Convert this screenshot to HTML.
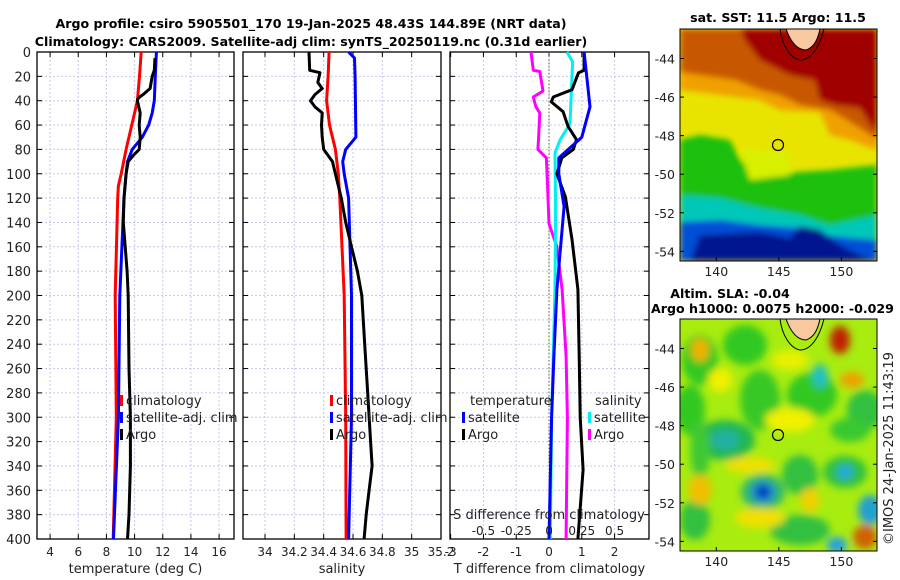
<!DOCTYPE html>
<html><head><meta charset="utf-8">
<style>
html,body{margin:0;padding:0;background:#fff;}
svg{display:block;font-family:"DejaVu Sans","Liberation Sans",sans-serif;}
</style></head>
<body>
<svg id="fig" width="900" height="580" viewBox="0 0 900 580">
<defs>
<filter id="blur3" x="-20%" y="-20%" width="140%" height="140%"><feGaussianBlur stdDeviation="3"/></filter>
<filter id="blur5" x="-30%" y="-30%" width="160%" height="160%"><feGaussianBlur stdDeviation="4"/></filter>
<clipPath id="clipTop"><rect x="680" y="29" width="197" height="232"/></clipPath>
<clipPath id="clipBot"><rect x="680" y="319" width="197" height="232"/></clipPath>
</defs>
<text x="311" y="28" text-anchor="middle" font-size="12.6" font-weight="bold">Argo profile: csiro 5905501_170 19-Jan-2025 48.43S 144.89E (NRT data)</text>
<text x="311" y="46" text-anchor="middle" font-size="12.6" font-weight="bold">Climatology: CARS2009. Satellite-adj clim: synTS_20250119.nc (0.31d earlier)</text>

<!-- Top SST map -->
<g>
<g clip-path="url(#clipTop)">
<rect x="680" y="29" width="197" height="232" fill="#e8e400"/>
<g filter="url(#blur3)">
<polygon points="680,29 877,29 877,150 850,140 830,135 820,112 780,110 760,100 720,95 680,90" fill="#f0a000"/>
<polygon points="680,29 877,29 877,140 860,128 830,110 800,105 780,95 760,90 735,80 700,75 680,72" fill="#c85800"/>
<polygon points="740,29 877,29 877,135 860,108 835,105 820,100 815,80 790,75 760,60 745,40" fill="#a00000"/>
<polygon points="680,140 700,135 730,140 740,160 760,175 800,172 830,170 877,165 877,225 840,235 800,215 760,210 720,200 680,200" fill="#1ec010"/>
<polygon points="740,150 790,152 790,175 750,180" fill="#d8f000"/>
<polygon points="680,195 720,198 760,208 800,215 830,225 877,215 877,240 840,245 800,232 760,230 720,230 680,235" fill="#00c8b8"/>
<polygon points="680,222 720,220 760,225 800,228 830,236 877,240 877,261 680,261" fill="#0050d8"/>
<polygon points="700,235 760,232 790,238 800,226 820,230 840,245 860,255 877,261 690,261" fill="#001890"/>
</g>
<path d="M786,29 C790,40 796,50 806,50 C815,47 818,38 820,29 Z" fill="#f8c8a0" stroke="#000" stroke-width="1"/>
<path d="M780,29 C782,45 790,58 800,60 C812,60 820,45 824,29" fill="none" stroke="#000" stroke-width="1"/>
<circle cx="778" cy="145" r="5.5" fill="none" stroke="#000" stroke-width="1.2"/>
</g>
<rect x="680" y="29" width="197" height="232" fill="none" stroke="#000" stroke-width="1"/>
<text x="778" y="22" text-anchor="middle" font-size="12.6" font-weight="bold">sat. SST: 11.5 Argo: 11.5</text>
</g>

<!-- Bottom SLA map -->
<g>
<g clip-path="url(#clipBot)">
<rect x="680" y="319" width="197" height="232" fill="#a8ec10"/>
<g filter="url(#blur5)">
<ellipse cx="700" cy="360" rx="18" ry="25" fill="#30c820"/>
<ellipse cx="745" cy="345" rx="22" ry="20" fill="#30c820"/>
<ellipse cx="690" cy="410" rx="15" ry="25" fill="#30c820"/>
<ellipse cx="760" cy="400" rx="20" ry="30" fill="#38c828"/>
<ellipse cx="812" cy="395" rx="25" ry="22" fill="#30c820"/>
<ellipse cx="725" cy="440" rx="30" ry="20" fill="#20b850"/>
<ellipse cx="725" cy="440" rx="15" ry="10" fill="#20b0a0"/>
<ellipse cx="820" cy="376" rx="8" ry="12" fill="#20c0c0"/>
<ellipse cx="865" cy="410" rx="18" ry="20" fill="#30c040"/>
<ellipse cx="800" cy="475" rx="18" ry="20" fill="#30c040"/>
<ellipse cx="845" cy="472" rx="22" ry="16" fill="#30c040"/>
<ellipse cx="845" cy="472" rx="8" ry="7" fill="#20a8e0"/>
<ellipse cx="763" cy="492" rx="22" ry="18" fill="#30b870"/>
<ellipse cx="763" cy="492" rx="11" ry="10" fill="#1070e0"/>
<ellipse cx="763" cy="492" rx="5" ry="5" fill="#0020a0"/>
<ellipse cx="695" cy="520" rx="15" ry="20" fill="#30c040"/>
<ellipse cx="800" cy="530" rx="30" ry="15" fill="#30c040"/>
<ellipse cx="837" cy="545" rx="10" ry="8" fill="#20a0e0"/>
<ellipse cx="870" cy="510" rx="12" ry="15" fill="#20a0d0"/>
<ellipse cx="700" cy="450" rx="10" ry="30" fill="#40c830"/>
<ellipse cx="850" cy="430" rx="20" ry="12" fill="#38c830"/>
<ellipse cx="720" cy="380" rx="12" ry="12" fill="#f0f000"/>
<ellipse cx="790" cy="360" rx="18" ry="10" fill="#e8f000"/>
<ellipse cx="790" cy="420" rx="25" ry="12" fill="#f0f000"/>
<ellipse cx="700" cy="350" rx="9" ry="12" fill="#f0b000"/>
<ellipse cx="840" cy="340" rx="10" ry="14" fill="#c02000"/>
<ellipse cx="852" cy="380" rx="12" ry="8" fill="#f0a000"/>
<ellipse cx="700" cy="490" rx="12" ry="15" fill="#f0c000"/>
<ellipse cx="750" cy="465" rx="25" ry="8" fill="#f0e000"/>
<ellipse cx="760" cy="518" rx="25" ry="10" fill="#f0e000"/>
<ellipse cx="865" cy="537" rx="12" ry="12" fill="#d06000"/>
<ellipse cx="810" cy="500" rx="10" ry="12" fill="#f0d000"/>
</g>
<path d="M786,319 C790,330 796,340 806,340 C815,337 818,328 820,319 Z" fill="#f8c8a0" stroke="#000" stroke-width="1"/>
<path d="M780,319 C782,335 790,348 800,350 C812,350 820,335 824,319" fill="none" stroke="#000" stroke-width="1"/>
<circle cx="778" cy="435" r="5.5" fill="none" stroke="#000" stroke-width="1.2"/>
</g>
<rect x="680" y="319" width="197" height="232" fill="none" stroke="#000" stroke-width="1"/>
<text x="730" y="298" text-anchor="middle" font-size="12.6" font-weight="bold">Altim. SLA: -0.04</text>
<text x="651" y="313" font-size="12.6" font-weight="bold">Argo h1000: 0.0075 h2000: -0.029</text>
</g>
<text transform="translate(893,545) rotate(-90)" font-size="13" fill="#222">©IMOS 24-Jan-2025 11:43:19</text>

<g id="plots"></g>
</svg>
<script>
// ---- data ----
const tempClimDepth = [0,20,40,60,80,100,110,120,200,300,400];
const tempClim      = [10.47,10.35,10.2,9.8,9.4,9.05,8.85,8.8,8.62,8.7,8.48];
const tempSatDepth  = [0,20,40,50,60,70,80,90,100,120,200,300,400];
const tempSat       = [11.55,11.47,11.4,11.25,11.0,10.55,9.83,9.5,9.4,9.25,8.95,8.85,8.5];
const argoDepth     = [5,15,20,30,35,38,40,50,60,70,80,85,90,100,120,140,160,180,200,260,300,340,380,400];
const argoTemp      = [11.45,11.4,11.25,11.1,10.6,10.25,10.2,10.4,10.33,10.4,10.33,9.9,9.55,9.4,9.25,9.2,9.33,9.47,9.55,9.6,9.7,9.7,9.6,9.5];

const salClimDepth = [0,20,40,60,80,100,120,200,300,400];
const salClim      = [34.437,34.43,34.42,34.44,34.48,34.5,34.51,34.54,34.55,34.553];
const salSatDepth  = [0,5,20,70,80,90,100,120,200,300,400];
const salSat       = [34.57,34.61,34.614,34.62,34.55,34.53,34.54,34.57,34.59,34.59,34.57];
const argoSalDepth = [0,15,17,25,30,35,40,45,50,60,70,80,85,90,100,120,140,160,180,200,240,280,320,340,360,380,400];
const argoSal      = [34.30,34.305,34.375,34.36,34.39,34.34,34.31,34.34,34.39,34.385,34.39,34.40,34.43,34.46,34.48,34.52,34.55,34.59,34.63,34.66,34.68,34.70,34.72,34.73,34.71,34.69,34.676];

const dTSatDepth  = [0,45,70,87,100,127,195,250,300,400];
const dTSat       = [1.07,1.25,1.0,0.3,0.3,0.46,0.24,0.15,0.08,0.0];
const dTArgoDepth = [0,15,17,31,37,41,49,61,72,80,87,100,119,154,195,250,300,343,400];
const dTArgo      = [1.07,1.07,0.9,0.7,0.13,0.07,0.43,0.58,0.84,0.74,0.39,0.24,0.5,0.7,0.88,0.92,0.95,1.04,0.88];
const dSSatDepth  = [0,8,59,72,83,127,195,300,400];
const dSSat       = [0.137,0.18,0.16,0.085,0.046,0.05,0.046,0.02,0.01];
const dSArgoDepth = [0,15,16,32,37,45,50,72,80,87,113,141,160,195,250,300,400];
const dSArgo      = [-0.137,-0.12,-0.07,-0.046,-0.12,-0.10,-0.07,-0.08,-0.085,-0.02,-0.01,0.0,0.06,0.1,0.13,0.14,0.13];

const depthTicks = [0,20,40,60,80,100,120,140,160,180,200,220,240,260,280,300,320,340,360,380,400];
const tempTicks = [4,6,8,10,12,14,16];
const salTicks = [34,34.2,34.4,34.6,34.8,35,35.2];
const salTickLabels = ["34","34.2","34.4","34.6","34.8","35","35.2"];
const dTTicks = [-3,-2,-1,0,1,2];
const dTTickLabels = ["-3","-2","-1","0","1","2"];
const dSTicks = [-0.5,-0.25,0,0.25,0.5];
const dSTickLabels = ["-0.5","-0.25","0","0.25","0.5"];
const latTicks = [-44,-46,-48,-50,-52,-54];
const lonTicks = [140,145,150];

// ---- drawing ----
const NS = "http://www.w3.org/2000/svg";
const root = document.getElementById('plots');
function mk(tag, attrs, parent){
  const e = document.createElementNS(NS, tag);
  for (const k in attrs) e.setAttribute(k, attrs[k]);
  (parent||root).appendChild(e);
  return e;
}
const Y0 = 52, Y1 = 539;
const yScale = d => Y0 + (d/400)*(Y1-Y0);
function xs(x0,x1,v0,v1){ return v => x0 + (v-v0)/(v1-v0)*(x1-x0); }

function panel(name, x0, x1, sx, ticks, labels, xlabel, showY){
  const g = mk('g', {});
  
  
  ticks.forEach(t => { const x = sx(t); if (x> x0+1 && x < x1-1) mk('line',{x1:x,x2:x,y1:Y0,y2:Y1,stroke:'#c4c8ec','stroke-width':1,'stroke-dasharray':'2,2'},g); });
  depthTicks.forEach(d => { const y=yScale(d); mk('line',{x1:x0,x2:x1,y1:y,y2:y,stroke:'#c4c8ec','stroke-width':1,'stroke-dasharray':'2,2'},g);
    mk('line',{x1:x0,x2:x0+5,y1:y,y2:y,stroke:'#000'},g); mk('line',{x1:x1-5,x2:x1,y1:y,y2:y,stroke:'#000'},g);
    if (showY){ const t = mk('text',{x:x0-6,y:y+5,'text-anchor':'end','font-size':13,fill:'#222'},g); t.textContent=d; }
  });
  ticks.forEach((t,i) => { const x = sx(t);
    mk('line',{x1:x,x2:x,y1:Y1,y2:Y1-5,stroke:'#000'},g); mk('line',{x1:x,x2:x,y1:Y0,y2:Y0+5,stroke:'#000'},g);
    const tx = mk('text',{x:x,y:556,'text-anchor':'middle','font-size':12,fill:'#222'},g); tx.textContent = labels[i];
  });
  mk('rect',{x:x0,y:Y0,width:x1-x0,height:Y1-Y0,fill:'none',stroke:'#000','stroke-width':1.3},g);
  const xl = mk('text',{x:(x0+x1)/2,y:573,'text-anchor':'middle','font-size':13,fill:'#222'},g);
  
  
  xl.textContent = xlabel;
  return g;
}
function line(g, sx, depths, vals, color, name){
  const pts = depths.map((d,i)=> sx(vals[i]).toFixed(1)+','+yScale(d).toFixed(1)).join(' ');
  const p = mk('polyline',{points:pts,fill:'none',stroke:color,'stroke-width':3,'stroke-linejoin':'round'},g);
  
  
}
function legend(g, x, y, color, label, name){
  mk('rect',{x:x,y:y-10,width:3,height:11,fill:color},g);
  const t = mk('text',{x:x+6,y:y,'font-size':13,fill:'#222'},g);
  
  
  t.textContent = label;
}

// Panel 1
const sT = xs(37,234,3.07,17.06);
const g1 = panel('temperature-panel',37,234,sT,tempTicks,tempTicks.map(String),'temperature (deg C)',true);
line(g1,sT,tempClimDepth,tempClim,'#ff0000','temp-climatology-line');
line(g1,sT,tempSatDepth,tempSat,'#0000ff','temp-satellite-line');
line(g1,sT,argoDepth,argoTemp,'#000000','temp-argo-line');
legend(g1,120,405,'#ff0000','climatology','legend-climatology');
legend(g1,120,422,'#0000ff','satellite-adj. clim','legend-satellite-adj');
legend(g1,120,439,'#000000','Argo','legend-argo');

// Panel 2
const sS = xs(243,441,33.85,35.2);
const g2 = panel('salinity-panel',243,441,sS,salTicks,salTickLabels,'salinity',false);
line(g2,sS,salClimDepth,salClim,'#ff0000','sal-climatology-line');
line(g2,sS,salSatDepth,salSat,'#0000ff','sal-satellite-line');
line(g2,sS,argoSalDepth,argoSal,'#000000','sal-argo-line');
legend(g2,330,405,'#ff0000','climatology','legend-sal-climatology');
legend(g2,330,422,'#0000ff','satellite-adj. clim','legend-sal-satellite-adj');
legend(g2,330,439,'#000000','Argo','legend-sal-argo');

// Panel 3
const sD = xs(450,649,-3.02,3.05);
const sDS = v => sD(v*4);
const g3 = panel('difference-panel',450,649,sD,dTTicks,dTTickLabels,'T difference from climatology',false);
mk('line',{x1:sD(0),x2:sD(0),y1:Y0,y2:Y1,stroke:'#556b2f','stroke-width':1,'stroke-dasharray':'1.5,2'},g3);
line(g3,sDS,dSArgoDepth,dSArgo,'#ff00ff','dS-argo-line');
line(g3,sDS,dSSatDepth,dSSat,'#00f0f0','dS-satellite-line');
line(g3,sD,dTArgoDepth,dTArgo,'#000000','dT-argo-line');
line(g3,sD,dTSatDepth,dTSat,'#0000ff','dT-satellite-line');
const lt = mk('text',{x:470,y:405,'font-size':13,fill:'#222'},g3); lt.textContent='temperature';
const ls = mk('text',{x:595,y:405,'font-size':13,fill:'#222'},g3); ls.textContent='salinity';
legend(g3,462,422,'#0000ff','satellite','legend-dT-satellite');
legend(g3,462,439,'#000000','Argo','legend-dT-argo');
legend(g3,588,422,'#00f0f0','satellite','legend-dS-satellite');
legend(g3,588,439,'#ff00ff','Argo','legend-dS-argo');
const st = mk('text',{x:549,y:519,'text-anchor':'middle','font-size':13,fill:'#222'},g3);


st.textContent='S difference from climatology';
dSTicks.forEach((v,i)=>{ const t=mk('text',{x:sDS(v),y:535,'text-anchor':'middle','font-size':12,fill:'#222'},g3); t.textContent=dSTickLabels[i]; });

// Map axes
function mapAxes(name, y0, y1, latTop, latBot){
  const g = mk('g',{});
  
  
  const sy = v => y0 + (latTop - v)/(latTop-latBot)*(y1-y0);
  const sx = xs(680,877,137.1,152.85);
  latTicks.forEach(l=>{ const y=sy(l);
    mk('line',{x1:680,x2:684,y1:y,y2:y,stroke:'#000'},g); mk('line',{x1:873,x2:877,y1:y,y2:y,stroke:'#000'},g);
    const t=mk('text',{x:675,y:y+5,'text-anchor':'end','font-size':12.5,fill:'#222'},g); t.textContent=l; });
  lonTicks.forEach(l=>{ const x=sx(l);
    mk('line',{x1:x,x2:x,y1:y1,y2:y1-4,stroke:'#000'},g);
    const t=mk('text',{x:x,y:y1+15,'text-anchor':'middle','font-size':12.5,fill:'#222'},g); t.textContent=l; });
}
mapAxes('sst-map-axes',29,261,-42.47,-54.5);
mapAxes('sla-map-axes',319,551,-42.47,-54.5);
</script>
</body></html>
